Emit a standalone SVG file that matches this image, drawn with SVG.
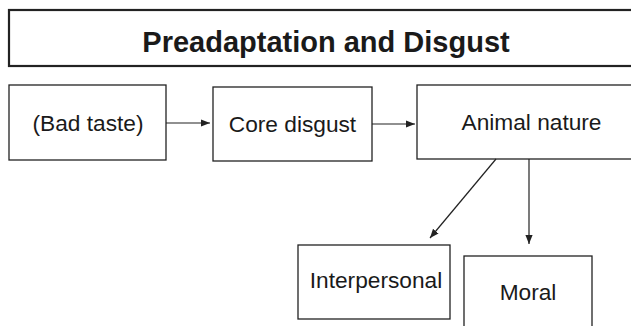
<svg xmlns="http://www.w3.org/2000/svg" width="631" height="326" viewBox="0 0 631 326">
<style>
.box{fill:#fff;stroke:#222;stroke-width:1.3}
.t{font-family:"Liberation Sans",Arial,sans-serif;font-size:22.7px;fill:#1a1a1a;text-anchor:middle}
.c{stroke:#222;stroke-width:1.2;fill:none}
</style>
<defs>
<marker id="a" viewBox="0 0 10 10" refX="10" refY="5" markerWidth="9" markerHeight="9" markerUnits="userSpaceOnUse" orient="auto">
<path d="M0,1 L10,5 L0,9 Z" fill="#222"/>
</marker>
</defs>
<rect width="631" height="326" fill="#fff"/>
<g id="title">
<rect x="9" y="10" width="640" height="56" fill="#fff" stroke="#222" stroke-width="2.2"/>
<text x="326" y="52" class="t" style="font-size:29px;font-weight:bold">Preadaptation and Disgust</text>
</g>
<g id="badtaste">
<rect class="box" x="9" y="85" width="157" height="75"/>
<text class="t" x="88" y="131">(Bad taste)</text>
</g>
<g id="core">
<rect class="box" x="213" y="87" width="159" height="74"/>
<text class="t" x="292.5" y="132">Core disgust</text>
</g>
<g id="animal">
<rect class="box" x="417" y="85" width="240" height="74"/>
<text class="t" x="531.5" y="130">Animal nature</text>
</g>
<g id="interpersonal">
<rect class="box" x="298" y="245" width="152" height="74"/>
<text class="t" x="376" y="288">Interpersonal</text>
</g>
<g id="moral">
<rect class="box" x="464" y="256" width="128" height="90"/>
<text class="t" x="528" y="300">Moral</text>
</g>
<g id="connectors">
<line class="c" x1="166" y1="123" x2="210" y2="123" marker-end="url(#a)"/>
<line class="c" x1="372" y1="124" x2="415" y2="124" marker-end="url(#a)"/>
<line class="c" x1="496" y1="159" x2="430" y2="238" marker-end="url(#a)"/>
<line class="c" x1="529" y1="159" x2="529" y2="244" marker-end="url(#a)"/>
</g>
</svg>
